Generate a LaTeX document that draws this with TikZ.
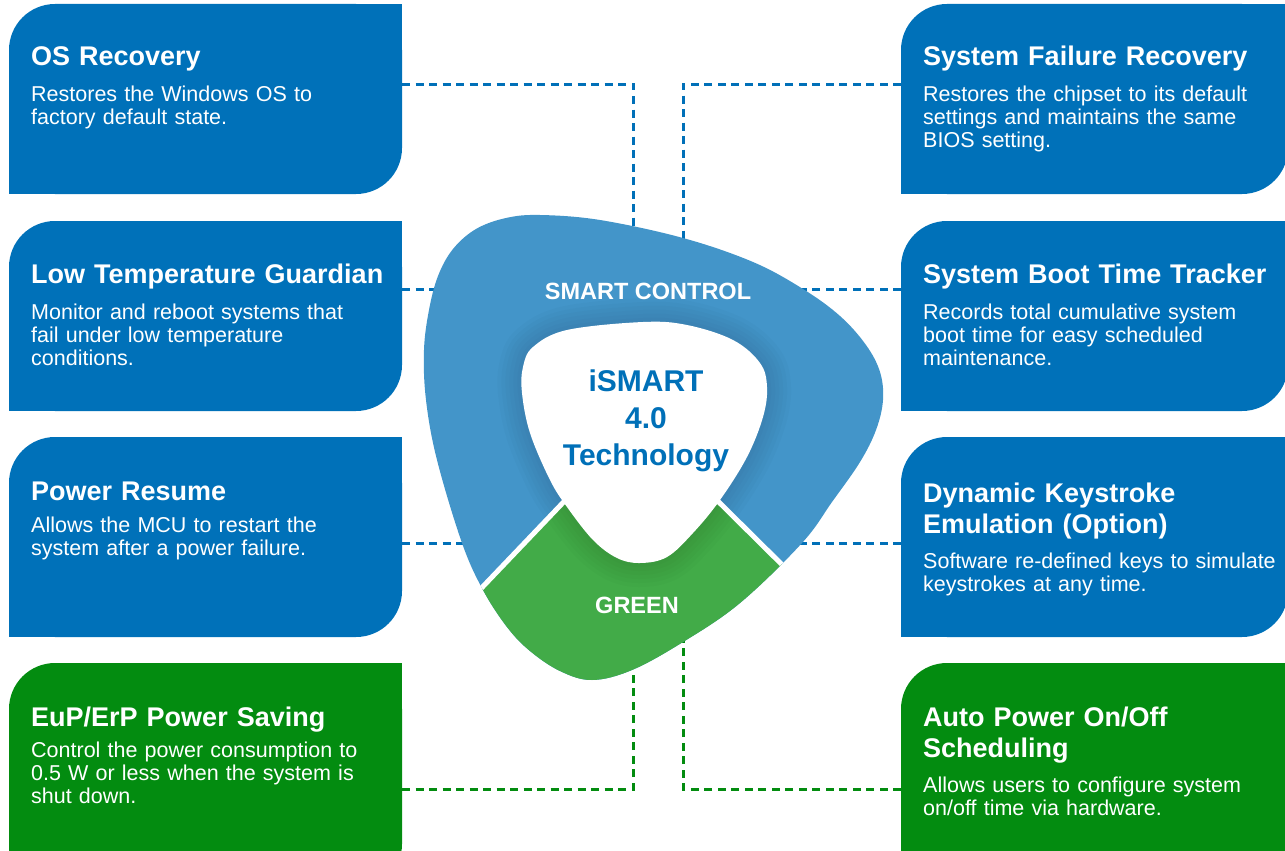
\documentclass[tikz,border=0pt]{standalone}
\usepackage{fontspec}
\setmainfont{Liberation Sans}

\definecolor{panelblue}{RGB}{0,113,185}
\definecolor{panelgreen}{RGB}{3,140,16}
\definecolor{ringblue}{RGB}{67,149,201}
\definecolor{ringgreen}{RGB}{66,171,72}
\definecolor{coreblue}{RGB}{0,112,184}

% panel: colour, left, top, right, bottom (rounded top left and bottom right)
\newcommand{\featpanel}[5]{%
  \fill[#1, rounded corners=46pt] (#2,#3) rectangle (#4,#5);
  \fill[#1] (#4-50,#3) rectangle (#4,#3+50);
  \fill[#1] (#2,#5-50) rectangle (#2+50,#5);
}

\begin{document}
\begin{tikzpicture}[x=1pt,y=-1pt]%
\tikzstyle{featuretitle} = [anchor=base west, inner sep=0pt, text=white,
    text width=380pt, align=left, font=\fontsize{27}{31.7}\selectfont\bfseries]
\tikzstyle{featuretext} = [anchor=base west, inner sep=0pt, text=white,
    text width=380pt, align=left, font=\fontsize{21.5}{23.3}\selectfont]
\tikzstyle{ringlabel} = [anchor=base, inner sep=0pt, text=white,
    font=\fontsize{23.5}{26}\selectfont\bfseries]
\tikzstyle{coretext} = [anchor=base, inner sep=0pt, text=coreblue,
    text width=220pt, align=center, font=\fontsize{30}{37}\selectfont\bfseries]
\tikzstyle{link} = [dash pattern=on 8pt off 5.5pt, line width=3pt]

\useasboundingbox (0,0) rectangle (1285,851);
\clip (0,0) rectangle (1285,851);

% panels
\featpanel{panelblue}{9}{4}{402}{194}
\featpanel{panelblue}{9}{221}{402}{411}
\featpanel{panelblue}{9}{437}{402}{637}
\featpanel{panelgreen}{9}{663}{402}{890}
\featpanel{panelblue}{901}{4}{1288}{194}
\featpanel{panelblue}{901}{221}{1288}{411}
\featpanel{panelblue}{901}{437}{1288}{637}
\featpanel{panelgreen}{901}{663}{1288}{890}

% connectors
\coordinate (os) at (402,84);      \coordinate (os-in) at (633,228);
\coordinate (sfr) at (901,84);     \coordinate (sfr-in) at (683,240);
\coordinate (ltg) at (402,289);    \coordinate (ltg-in) at (436,289);
\coordinate (sbt) at (901,289);    \coordinate (sbt-in) at (800,289);
\coordinate (pr) at (402,543);     \coordinate (pr-in) at (465,543);
\coordinate (dke) at (901,543);    \coordinate (dke-in) at (800,543);
\coordinate (eup) at (402,789);    \coordinate (eup-in) at (633,668);
\coordinate (apo) at (901,789);    \coordinate (apo-in) at (683,640);

\draw[link, coreblue] (os) -| (os-in);
\draw[link, coreblue] (sfr) -| (sfr-in);
\draw[link, coreblue] (ltg) -- (ltg-in);
\draw[link, coreblue] (sbt) -- (sbt-in);
\draw[link, coreblue] (pr) -- (pr-in);
\draw[link, coreblue] (dke) -- (dke-in);
\draw[link, panelgreen] (eup) -| (eup-in);
\draw[link, panelgreen] (apo) -| (apo-in);

% ring
\path[save path=\ringout] plot[smooth cycle, tension=.6] coordinates {
  (540,215) (600,220) (683,238) (753,262) (803,289) (840,316) (866,345)
  (880,372) (883,400) (876,430) (860,462) (832,502) (802,543) (740,603)
  (683,642) (632,670) (592,680) (560,671) (530,651) (507,627) (483,590)
  (462,543) (437,460) (426,400) (424,350) (429,310) (438,276) (453,249)
  (476,229) (506,218)};
\path[save path=\ringin] plot[smooth cycle, tension=.6] coordinates {
  (643,322) (687,325) (733,340) (760,363) (767,387) (763,417) (747,457)
  (720,500) (693,533) (667,557) (640,563) (617,558) (593,540) (567,507)
  (550,480) (530,433) (522,393) (523,367) (533,347) (567,330)};

\fill[ringblue, use path=\ringout];
\begin{scope}
  \clip[use path=\ringout];
  \fill[ringgreen] (639,423) -- (397,677) -- (620,800) -- (880,660) -- cycle;
  \foreach \w in {8,16,24,32,40,48}
    \draw[black, opacity=.017, line width=\w, use path=\ringin];
  \draw[white, line width=5pt] (639,423) -- (430,642);
  \draw[white, line width=5pt] (639,423) -- (850,632);
\end{scope}
\fill[white, use path=\ringin];

\node[ringlabel] (smart) at (648,299) {SMART CONTROL};
\node[ringlabel] (green) at (637,613) {GREEN};
\node[coretext] (core) at (646,391) {iSMART\\4.0\\Technology};

% left column
\node[featuretitle] (os-title) at (31,66) {OS Recovery};
\node[featuretext] (os-text) at (31,101) {Restores the Windows OS to\\factory default state.};
\node[featuretitle] (ltg-title) at (31,283) {Low Temperature Guardian};
\node[featuretext] (ltg-text) at (31,319) {Monitor and reboot systems that\\fail under low temperature\\conditions.};
\node[featuretitle] (pr-title) at (31,500) {Power Resume};
\node[featuretext] (pr-text) at (31,532) {Allows the MCU to restart the\\system after a power failure.};
\node[featuretitle] (eup-title) at (31,726) {EuP/ErP Power Saving};
\node[featuretext] (eup-text) at (31,757) {Control the power consumption to\\0.5 W or less when the system is\\shut down.};

% right column
\node[featuretitle] (sfr-title) at (923,66) {System Failure Recovery};
\node[featuretext] (sfr-text) at (923,101) {Restores the chipset to its default\\settings and maintains the same\\BIOS setting.};
\node[featuretitle] (sbt-title) at (923,283) {System Boot Time Tracker};
\node[featuretext] (sbt-text) at (923,319) {Records total cumulative system\\boot time for easy scheduled\\maintenance.};
\node[featuretitle] (dke-title) at (923,502) {Dynamic Keystroke\\Emulation (Option)};
\node[featuretext] (dke-text) at (923,568) {Software re-defined keys to simulate\\keystrokes at any time.};
\node[featuretitle] (apo-title) at (923,726) {Auto Power On/Off\\Scheduling};
\node[featuretext] (apo-text) at (923,792) {Allows users to configure system\\on/off time via hardware.};
\end{tikzpicture}
\end{document}
